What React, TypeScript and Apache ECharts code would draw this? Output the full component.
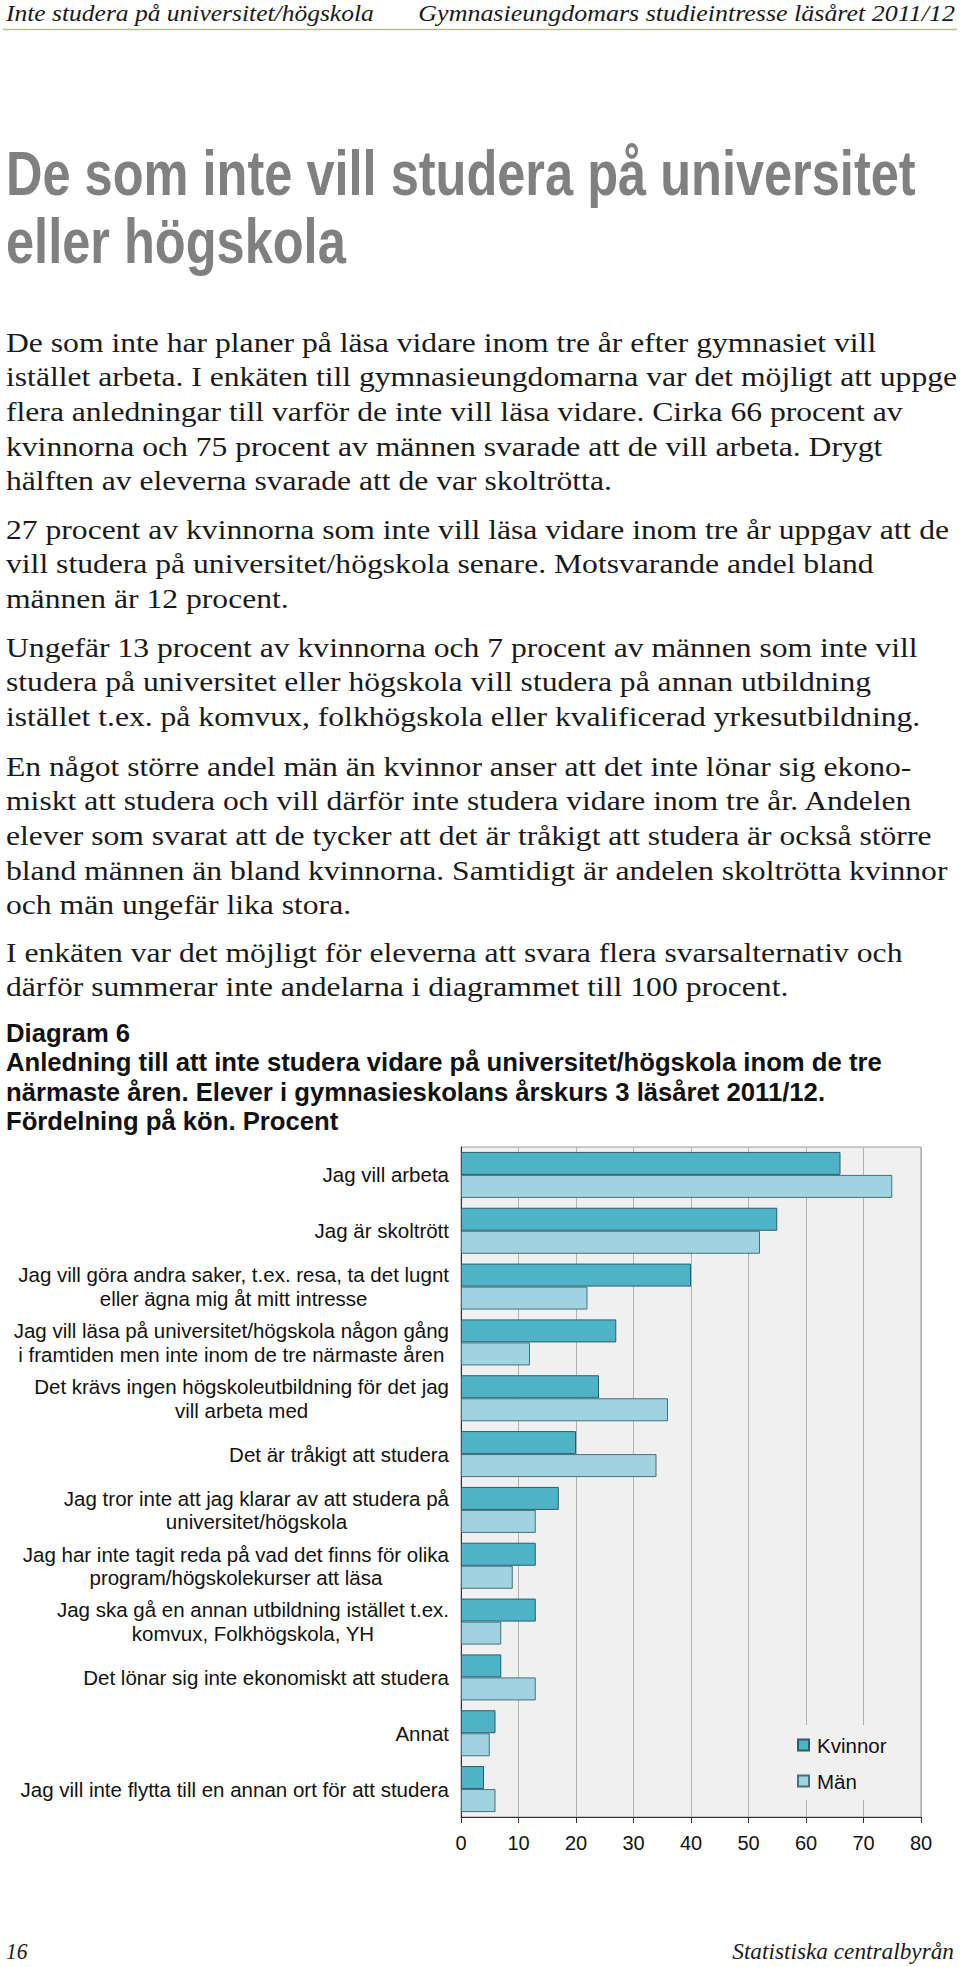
import React, { useEffect, useRef } from "react";
import * as echarts from "echarts";

// ---------- chart data ----------
const categories: string[] = [
  "Jag vill arbeta",
  "Jag är skoltrött",
  "Jag vill göra andra saker, t.ex. resa, ta det lugnt\neller ägna mig åt mitt intresse",
  "Jag vill läsa på universitet/högskola någon gång\ni framtiden men inte inom de tre närmaste åren",
  "Det krävs ingen högskoleutbildning för det jag\nvill arbeta med",
  "Det är tråkigt att studera",
  "Jag tror inte att jag klarar av att studera på\nuniversitet/högskola",
  "Jag har inte tagit reda på vad det finns för olika\nprogram/högskolekurser att läsa",
  "Jag ska gå en annan utbildning istället t.ex.\nkomvux, Folkhögskola, YH",
  "Det lönar sig inte ekonomiskt att studera",
  "Annat",
  "Jag vill inte flytta till en annan ort för att studera",
];
const kvinnor: number[] = [66, 55, 40, 27, 24, 20, 17, 13, 13, 7, 6, 4];
const man: number[] = [75, 52, 22, 12, 36, 34, 13, 9, 7, 13, 5, 6];
const seriesNames: string[] = ["Kvinnor", "Män"];
const axisMin = 0;
const axisMax = 80;
const axisStep = 10;

// ---------- page text ----------
const headerLeft = "Inte studera på universitet/högskola";
const headerRight = "Gymnasieungdomars studieintresse läsåret 2011/12";
const titleLines: string[] = ["De som inte vill studera på universitet", "eller högskola"];
const paragraphs: string[][] = [
  [
    "De som inte har planer på läsa vidare inom tre år efter gymnasiet vill",
    "istället arbeta. I enkäten till gymnasieungdomarna var det möjligt att uppge",
    "flera anledningar till varför de inte vill läsa vidare. Cirka 66 procent av",
    "kvinnorna och 75 procent av männen svarade att de vill arbeta. Drygt",
    "hälften av eleverna svarade att de var skoltrötta.",
  ],
  [
    "27 procent av kvinnorna som inte vill läsa vidare inom tre år uppgav att de",
    "vill studera på universitet/högskola senare. Motsvarande andel bland",
    "männen är 12 procent.",
  ],
  [
    "Ungefär 13 procent av kvinnorna och 7 procent av männen som inte vill",
    "studera på universitet eller högskola vill studera på annan utbildning",
    "istället t.ex. på komvux, folkhögskola eller kvalificerad yrkesutbildning.",
  ],
  [
    "En något större andel män än kvinnor anser att det inte lönar sig ekono-",
    "miskt att studera och vill därför inte studera vidare inom tre år. Andelen",
    "elever som svarat att de tycker att det är tråkigt att studera är också större",
    "bland männen än bland kvinnorna. Samtidigt är andelen skoltrötta kvinnor",
    "och män ungefär lika stora.",
  ],
  [
    "I enkäten var det möjligt för eleverna att svara flera svarsalternativ och",
    "därför summerar inte andelarna i diagrammet till 100 procent.",
  ],
];
// right edge (px) of each body line in the reference page (0 = not used for fitting)
const paragraphRightEdges: number[][] = [
  [866, 955, 886, 875, 611],
  [942, 882, 0],
  [904, 876, 906],
  [946, 947, 946, 949, 348],
  [892, 784],
];
const captionLines: string[] = [
  "Diagram 6",
  "Anledning till att inte studera vidare på universitet/högskola inom de tre",
  "närmaste åren. Elever i gymnasieskolans årskurs 3 läsåret 2011/12.",
  "Fördelning på kön. Procent",
];
const footerLeft = "16";
const footerRight = "Statistiska centralbyrån";

// ---------- layout ----------
const W = 960;
const H = 1967;
const SANS = "Liberation Sans";
const SERIF = "Liberation Serif";
const LEFT = 6;
const paraTops = [342, 529, 647, 766, 952];
const paraStep = 34.6;
const captionYs = [1033.5, 1062.5, 1092, 1121.5];
const titleYs = [173.5, 241.5];

const HDR_SIZE = 23;
const T_SIZE = 62;
const B_SIZE = 28;
const C_SIZE = 25.5;

type Scales = { hl: number; hr: number; t: number; b: number; c: number; fl: number; fr: number };
const ONES: Scales = { hl: 1, hr: 1, t: 1, b: 1, c: 1, fl: 1, fr: 1 };

function buildOption(s: Scales) {
  const graphic: any[] = [];

  const hdrStyle = {
    fontFamily: SERIF, fontSize: HDR_SIZE, fontStyle: "italic", fontWeight: "normal",
    fill: "#1a1a1a", verticalAlign: "middle",
  };
  graphic.push({ type: "text", x: LEFT, y: 13, scaleX: s.hl, style: { ...hdrStyle, text: headerLeft, align: "left" } });
  graphic.push({ type: "text", x: 955, y: 13, scaleX: s.hr, style: { ...hdrStyle, text: headerRight, align: "right" } });
  graphic.push({ type: "line", shape: { x1: 3, y1: 29.5, x2: 957, y2: 29.5 }, style: { stroke: "#b7be90", lineWidth: 1.5 } });

  titleLines.forEach((t, i) => {
    graphic.push({
      type: "text", x: LEFT, y: titleYs[i], scaleX: s.t,
      style: { text: t, fontFamily: SANS, fontSize: T_SIZE, fontWeight: "bold", fontStyle: "normal", fill: "#808080", align: "left", verticalAlign: "middle" },
    });
  });

  paragraphs.forEach((p, pi) => {
    p.forEach((line, li) => {
      graphic.push({
        type: "text", x: LEFT, y: paraTops[pi] + li * paraStep, scaleX: s.b,
        style: { text: line, fontFamily: SERIF, fontSize: B_SIZE, fontWeight: "normal", fontStyle: "normal", fill: "#1a1a1a", align: "left", verticalAlign: "middle" },
      });
    });
  });

  captionLines.forEach((line, i) => {
    graphic.push({
      type: "text", x: LEFT, y: captionYs[i], scaleX: s.c,
      style: { text: line, fontFamily: SANS, fontSize: C_SIZE, fontWeight: "bold", fontStyle: "normal", fill: "#111", align: "left", verticalAlign: "middle" },
    });
  });

  graphic.push({ type: "text", x: LEFT, y: 1951, scaleX: s.fl, style: { ...hdrStyle, text: footerLeft, align: "left" } });
  graphic.push({ type: "text", x: 954, y: 1951, scaleX: s.fr, style: { ...hdrStyle, text: footerRight, align: "right" } });

  return {
    animation: false,
    backgroundColor: "#ffffff",
    textStyle: { fontFamily: SANS },
    grid: {
      left: 461, top: 1147, width: 460, height: 670,
      show: true, backgroundColor: "#f0f0f0", borderColor: "#9a9a9a", borderWidth: 1,
    },
    xAxis: {
      type: "value", min: axisMin, max: axisMax, interval: axisStep,
      axisLine: { show: true, lineStyle: { color: "#333", width: 1 } },
      axisTick: { show: true, length: 6, lineStyle: { color: "#333" } },
      axisLabel: { show: true, margin: 16, fontSize: 20, color: "#111", fontFamily: SANS },
      splitLine: { show: true, lineStyle: { color: "#b2b2b2", width: 1 } },
    },
    yAxis: {
      type: "category", inverse: true, data: categories,
      axisLine: { show: true, lineStyle: { color: "#333", width: 1 } },
      axisTick: { show: false },
      splitLine: { show: false },
      axisLabel: {
        show: true, interval: 0, margin: 12, align: "right",
        formatter: (v: string) => v.split("\n").map((x) => `{c|${x}}`).join("\n"),
        rich: { c: { align: "center", fontSize: 20.5, lineHeight: 23.5, fontFamily: SANS, color: "#111" } },
      },
    },
    legend: {
      data: seriesNames, orient: "vertical", left: 790, top: 1725,
      backgroundColor: "#f0f0f0", padding: [9, 10, 8, 7],
      itemWidth: 11, itemHeight: 11, itemGap: 14, icon: "rect", selectedMode: false,
      textStyle: { fontSize: 20.5, fontFamily: SANS, color: "#111", lineHeight: 22, padding: [0, 0, 0, 3] },
    },
    series: [
      {
        name: seriesNames[0], type: "bar", data: kvinnor, barGap: "0%", barCategoryGap: "17.6%",
        itemStyle: { color: "#4fb3c7", borderColor: "#2f5c67", borderWidth: 1 },
      },
      {
        name: seriesNames[1], type: "bar", data: man, barGap: "0%", barCategoryGap: "17.6%",
        itemStyle: { color: "#9fd3df", borderColor: "#46707a", borderWidth: 1 },
      },
    ],
    graphic: { elements: graphic },
  };
}

function measureRendered(root: HTMLElement): Scales {
  const widths = new Map<string, number>();
  root.querySelectorAll("text").forEach((node) => {
    const content = node.textContent || "";
    try {
      const w = (node as SVGTextElement).getBBox().width;
      if (w > 0 && !widths.has(content)) widths.set(content, w);
    } catch (e) {
      /* ignore */
    }
  });
  const fit = (text: string, target: number) => {
    const w = widths.get(text);
    return w && w > 0 ? target / w : 1;
  };
  // body: one common scale fitted over all the measured lines
  let sumT = 0;
  let sumW = 0;
  paragraphs.forEach((p, pi) =>
    p.forEach((line, li) => {
      const edge = paragraphRightEdges[pi][li];
      const w = widths.get(line);
      if (edge > 0 && w && w > 0) {
        sumT += edge - LEFT;
        sumW += w;
      }
    })
  );
  return {
    hl: fit(headerLeft, 369),
    hr: fit(headerRight, 537),
    t: fit(titleLines[0], 910),
    b: sumW > 0 ? sumT / sumW : 1,
    c: fit(captionLines[1], 876),
    fl: fit(footerLeft, 22),
    fr: fit(footerRight, 222),
  };
}

export default function App() {
  const ref = useRef<HTMLDivElement>(null);
  useEffect(() => {
    const el = ref.current;
    if (!el) return;
    const chart = echarts.init(el, null, { renderer: "svg" });
    chart.setOption(buildOption(ONES) as any);
    const scales = measureRendered(el);
    chart.setOption(buildOption(scales) as any, true);
    return () => chart.dispose();
  }, []);
  return (
    <div
      ref={ref}
      style={{ position: "absolute", left: 0, top: 0, width: W, height: H, background: "#fff" }}
    />
  );
}
